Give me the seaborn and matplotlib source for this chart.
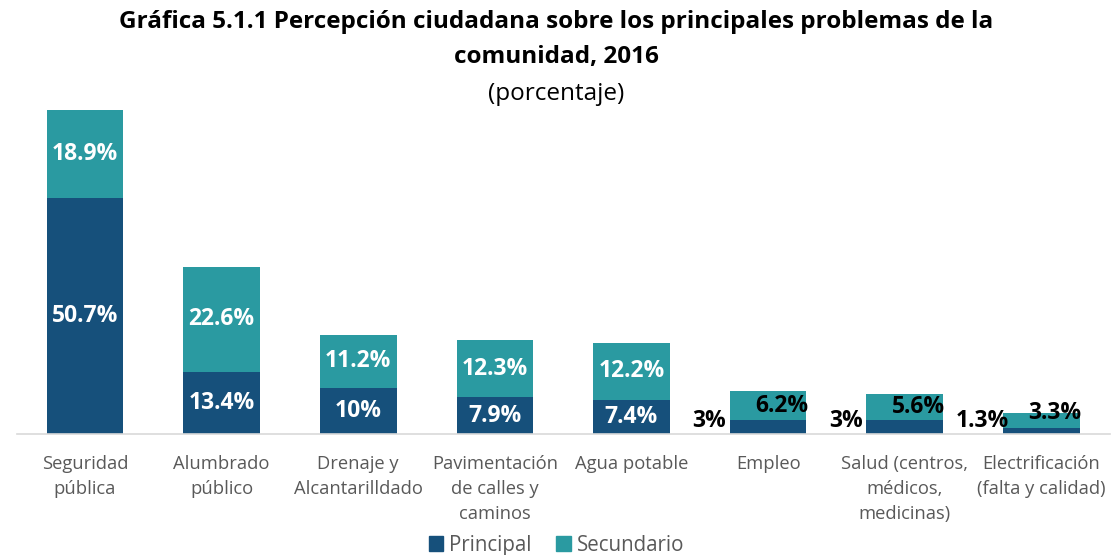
import matplotlib
matplotlib.use("Agg")
import matplotlib.pyplot as plt
import seaborn as sns
import pandas as pd
from matplotlib.patches import Patch

# Data
categories = [
    "Seguridad\npública",
    "Alumbrado\npúblico",
    "Drenaje y\nAlcantarilldado",
    "Pavimentación\nde calles y\ncaminos",
    "Agua potable",
    "Empleo",
    "Salud (centros,\nmédicos,\nmedicinas)",
    "Electrificación\n(falta y calidad)",
]
principal = [50.7, 13.4, 10.0, 7.9, 7.4, 3.0, 3.0, 1.3]
secundario = [18.9, 22.6, 11.2, 12.3, 12.2, 6.2, 5.6, 3.3]

COLOR_PRINCIPAL = "#16507B"
COLOR_SECUNDARIO = "#2A9AA1"


def fmt(v: float) -> str:
    return f"{v:g}%"


def main():
    sns.set_style("white")
    plt.rcParams["font.family"] = ["Open Sans", "DejaVu Sans"]

    df = pd.DataFrame(
        {"categoria": categories, "principal": principal, "secundario": secundario}
    )
    df["total"] = df["principal"] + df["secundario"]

    fig = plt.figure(figsize=(11.13, 5.55), dpi=100)
    ax = fig.add_axes([0.015, 0.218, 0.982, 0.589])

    # Stacked look: total bar in secondary colour, principal drawn over it
    sns.barplot(data=df, x="categoria", y="total", color=COLOR_SECUNDARIO,
                width=0.56, saturation=1, linewidth=0, ax=ax)
    sns.barplot(data=df, x="categoria", y="principal", color=COLOR_PRINCIPAL,
                width=0.56, saturation=1, linewidth=0, ax=ax)

    ax.set_ylim(0, 70.3)
    ax.set_xlim(-0.5, len(categories) - 0.5)
    ax.set_xlabel("")
    ax.set_ylabel("")
    ax.set_yticks([])
    for side in ["top", "right", "left"]:
        ax.spines[side].set_visible(False)
    ax.spines["bottom"].set_color("#D9D9D9")
    ax.spines["bottom"].set_linewidth(1.2)
    ax.tick_params(axis="x", length=0, pad=15, labelsize=13.2, colors="#595959")
    for lbl in ax.get_xticklabels():
        lbl.set_linespacing(1.5)

    # Value labels
    lab = dict(fontsize=16.5, fontweight="bold")
    for i, (p, s) in enumerate(zip(principal, secundario)):
        if p >= 5:
            ax.text(i, p / 2, fmt(p), ha="center", va="center", color="white", **lab)
            ax.text(i, p + s / 2, fmt(s), ha="center", va="center", color="white", **lab)
        else:
            ax.text(i - 0.43, 0.2, fmt(p), ha="center", va="bottom", color="black", **lab)
            y = p + s / 2 if s > 5 else p + s
            ax.text(i + 0.1, y, fmt(s), ha="center", va="center", color="black", **lab)

    fig.text(0.5, 0.96, "Gráfica 5.1.1 Percepción ciudadana sobre los principales problemas de la",
             ha="center", va="center", fontsize=17.5, fontweight="bold", color="black")
    fig.text(0.5, 0.897, "comunidad, 2016", ha="center", va="center",
             fontsize=17.5, fontweight="bold", color="black")
    fig.text(0.5, 0.83, "(porcentaje)", ha="center", va="center", fontsize=17.5,
             color="black")

    handles = [Patch(color=COLOR_PRINCIPAL, label="Principal"),
               Patch(color=COLOR_SECUNDARIO, label="Secundario")]
    fig.legend(handles=handles, loc="center", bbox_to_anchor=(0.5, 0.018), ncol=2,
               frameon=False, fontsize=14.8, handlelength=0.7, handleheight=0.7,
               handletextpad=0.3, columnspacing=1.2, labelcolor="#595959")

    fig.savefig("out.png", dpi=100)
    plt.close(fig)


if __name__ == "__main__":
    main()
